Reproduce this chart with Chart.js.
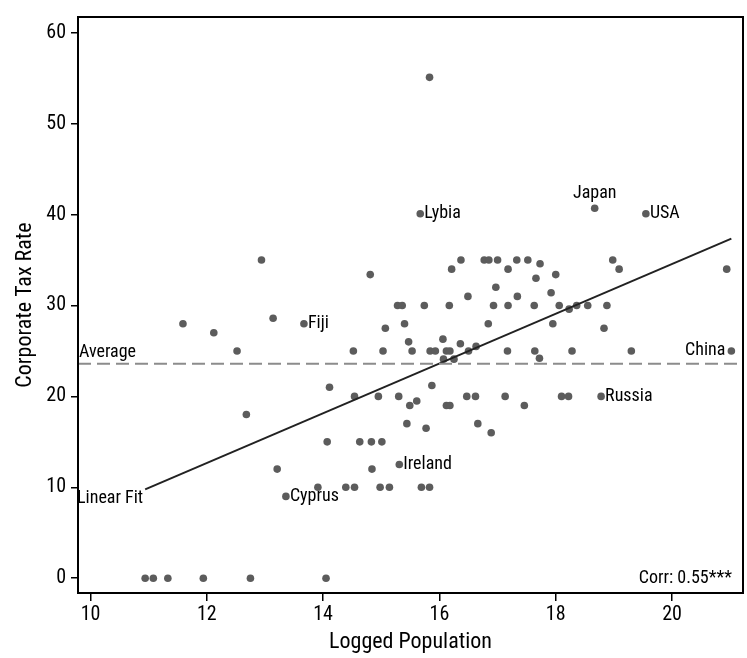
<!DOCTYPE html>
<html>
<head>
<meta charset="utf-8">
<script src="https://cdn.jsdelivr.net/npm/chart.js@4.4.1/dist/chart.umd.min.js"></script>
<style>
  html, body { margin: 0; padding: 0; background: #fff; }
  #wrap { width: 747px; height: 658px; }
</style>
</head>
<body>
<div id="wrap"><canvas id="myChart" width="747" height="658"></canvas></div>
<script>
// logged population (x) and corporate tax rate (y) for unlabelled countries
const popLog = [
  10.94, 11.08, 11.33, 11.94, 12.75, 14.05,
  11.59, 12.12, 12.52, 13.14, 12.94, 12.68, 13.21,
  13.91, 14.39, 14.54, 14.98, 15.14, 15.69, 15.83, 14.84,
  14.07, 14.63, 14.83, 15.01,
  14.11, 14.52, 15.03, 15.07, 15.40, 15.47,
  14.54, 14.95, 15.30, 15.49, 15.61, 15.44, 15.77,
  14.81, 15.28, 15.36, 15.83,
  16.37, 16.21, 16.77, 16.85, 17.00, 17.18, 17.33, 17.52, 17.73, 17.66, 18.00,
  16.97, 16.49, 17.34, 17.92,
  15.74, 16.17, 16.93, 17.18, 17.63, 18.06, 18.36, 18.55, 18.88, 18.23,
  18.98, 19.09, 20.94,
  16.84, 17.95, 18.83,
  15.53, 15.84, 15.93, 16.06, 16.12, 16.18, 16.36, 16.50, 16.63, 16.07, 16.25,
  17.17, 17.64, 17.72, 18.28, 19.30,
  15.87, 16.12, 16.18, 16.47, 16.62, 17.13, 17.46, 18.10, 18.22,
  16.66, 16.89
];
const taxRate = [
  0, 0, 0, 0, 0, 0,
  28, 27, 25, 28.6, 35, 18, 12,
  10, 10, 10, 10, 10, 10, 10, 12,
  15, 15, 15, 15,
  21, 25, 25, 27.5, 28, 26,
  20, 20, 20, 19, 19.5, 17, 16.5,
  33.4, 30, 30, 55.1,
  35, 34, 35, 35, 35, 34, 35, 35, 34.6, 33, 33.4,
  32, 31, 31, 31.4,
  30, 30, 30, 30, 30, 30, 30, 30, 30, 29.6,
  35, 34, 34,
  28, 28, 27.5,
  25, 25, 25, 26.3, 25, 25, 25.8, 25, 25.5, 24.1, 24.1,
  25, 25, 24.2, 25, 25,
  21.2, 19, 19, 20, 20, 20, 19, 20, 20,
  17, 16
];

// labelled countries
const countries = ["Lybia", "Japan", "USA", "Fiji", "Russia", "Ireland", "Cyprus", "China"];
const countryPop = [15.67, 18.67, 19.55, 13.67, 18.78, 15.31, 13.36, 21.02];
const countryTax = [40.1, 40.7, 40.1, 28, 20, 12.5, 9, 25];
const labelSide = ["right", "top", "right", "right", "right", "right", "right", "left"];

const avgTax = 23.6;
const fitSlope = 2.737;
const fitIntercept = -20.17;
const corrText = "Corr: 0.55***";

const xTicks = [10, 12, 14, 16, 18, 20];
const yTicks = [0, 10, 20, 30, 40, 50, 60];
const xMin = 9.785, xMax = 21.22;
const yMin = -1.63, yMax = 61.74;

const FONT = "'Roboto Condensed', 'Liberation Sans', Arial, sans-serif";
const DOT = "#5c5c5c";

const allX = popLog.concat(countryPop);
const fitX0 = Math.min(...allX);
const fitX1 = Math.max(...allX);

const points = popLog.map((x, i) => ({ x: x, y: taxRate[i] }));
const labelled = countryPop.map((x, i) => ({ x: x, y: countryTax[i] }));

const boxPlugin = {
  id: "box",
  afterDraw(chart) {
    const { ctx, chartArea: a } = chart;
    ctx.save();
    ctx.strokeStyle = "#000";
    ctx.lineWidth = 2;
    ctx.strokeRect(a.left, a.top, a.right - a.left, a.bottom - a.top);
    ctx.restore();
  }
};

const textPlugin = {
  id: "texts",
  afterDatasetsDraw(chart) {
    const { ctx, scales, chartArea: a } = chart;
    const xs = scales.x, ys = scales.y;
    ctx.save();
    ctx.fillStyle = "#000";
    ctx.font = "18px " + FONT;
    countries.forEach((name, i) => {
      const px = xs.getPixelForValue(countryPop[i]);
      const py = ys.getPixelForValue(countryTax[i]);
      ctx.textBaseline = "middle";
      if (labelSide[i] === "right") {
        ctx.textAlign = "left";
        ctx.fillText(name, px + 4, py);
      } else if (labelSide[i] === "left") {
        ctx.textAlign = "right";
        ctx.fillText(name, px - 6, py);
      } else {
        ctx.textAlign = "center";
        ctx.fillText(name, px, py - 15);
      }
    });
    // average line label
    ctx.textAlign = "left";
    ctx.textBaseline = "bottom";
    ctx.fillText("Average", a.left + 1, ys.getPixelForValue(avgTax) - 2);
    // linear fit label
    const fx = xs.getPixelForValue(fitX0);
    const fy = ys.getPixelForValue(fitIntercept + fitSlope * fitX0);
    ctx.textAlign = "right";
    ctx.textBaseline = "middle";
    ctx.fillText("Linear Fit", fx - 2, fy + 9);
    // correlation
    ctx.fillText(corrText, a.right - 11, ys.getPixelForValue(0));
    ctx.restore();
  }
};

new Chart(document.getElementById("myChart"), {
  type: "scatter",
  data: {
    datasets: [
      {
        type: "line",
        data: [{ x: xMin, y: avgTax }, { x: xMax, y: avgTax }],
        borderColor: "#8c8c8c",
        borderWidth: 2,
        borderDash: [13, 6],
        pointRadius: 0,
        fill: false
      },
      {
        type: "line",
        data: [
          { x: fitX0, y: fitIntercept + fitSlope * fitX0 },
          { x: fitX1, y: fitIntercept + fitSlope * fitX1 }
        ],
        borderColor: "#222",
        borderWidth: 2,
        pointRadius: 0,
        fill: false
      },
      {
        data: points,
        backgroundColor: DOT,
        borderColor: DOT,
        pointRadius: 3.8,
        borderWidth: 0
      },
      {
        data: labelled,
        backgroundColor: DOT,
        borderColor: DOT,
        pointRadius: 3.8,
        borderWidth: 0
      }
    ]
  },
  options: {
    responsive: false,
    animation: false,
    layout: { padding: { left: 0, top: 10, right: 3, bottom: 0 } },
    plugins: {
      legend: { display: false },
      tooltip: { enabled: false }
    },
    scales: {
      x: {
        type: "linear",
        min: xMin,
        max: xMax,
        afterBuildTicks: (s) => { s.ticks = xTicks.map((v) => ({ value: v })); },
        afterFit: (s) => { s.height = 65; },
        grid: { drawOnChartArea: false, drawTicks: true, tickLength: 8, color: "#000", lineWidth: 1.5 },
        border: { display: false },
        ticks: { color: "#000", padding: 2, font: { family: FONT, size: 20 }, maxRotation: 0 },
        title: {
          display: true,
          text: "Logged Population",
          color: "#000",
          font: { family: FONT, size: 22 },
          padding: { top: 0, bottom: 2 }
        }
      },
      y: {
        type: "linear",
        min: yMin,
        max: yMax,
        afterBuildTicks: (s) => { s.ticks = yTicks.map((v) => ({ value: v })); },
        afterFit: (s) => { s.width = 78; },
        grid: { drawOnChartArea: false, drawTicks: true, tickLength: 7, color: "#000", lineWidth: 1.5 },
        border: { display: false },
        ticks: { color: "#000", padding: 5, font: { family: FONT, size: 20 } },
        title: {
          display: true,
          text: "Corporate Tax Rate",
          color: "#000",
          font: { family: FONT, size: 22 },
          padding: { top: 12, bottom: 0 }
        }
      }
    }
  },
  plugins: [boxPlugin, textPlugin]
});
</script>
</body>
</html>
